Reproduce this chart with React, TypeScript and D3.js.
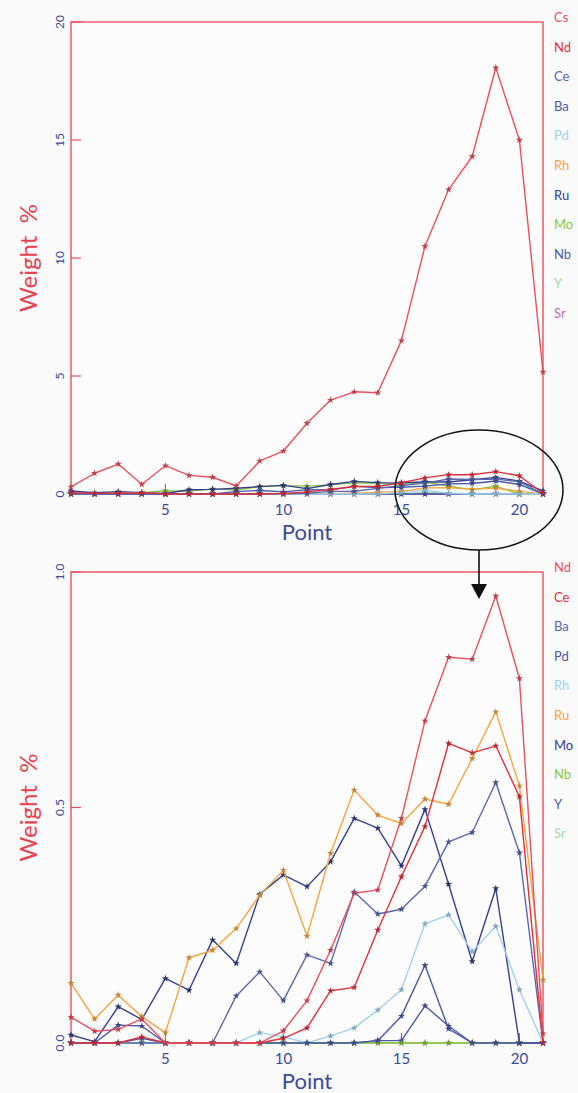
import React, { useEffect, useRef } from 'react';
import * as d3 from 'd3';

// measurement points along the line scan
const points = [1, 2, 3, 4, 5, 6, 7, 8, 9, 10, 11, 12, 13, 14, 15, 16, 17, 18, 19, 20, 21];

// weight % per element
const Cs = [0.3, 0.88, 1.27, 0.41, 1.2, 0.79, 0.71, 0.34, 1.4, 1.82, 3.0, 3.98, 4.33, 4.29, 6.5, 10.5, 12.9, 14.3, 18.06, 15.0, 5.17];
const Nd = [0.055, 0.025, 0.029, 0.051, 0, 0, 0, 0, 0, 0.026, 0.09, 0.197, 0.318, 0.325, 0.477, 0.684, 0.819, 0.815, 0.949, 0.774, 0.02];
const Ce = [0, 0, 0, 0.013, 0, 0, 0, 0, 0, 0.01, 0.032, 0.111, 0.118, 0.24, 0.353, 0.46, 0.636, 0.616, 0.631, 0.523, 0];
const Ba = [0, 0, 0, 0, 0, 0, 0, 0.1, 0.151, 0.09, 0.187, 0.169, 0.321, 0.274, 0.284, 0.333, 0.427, 0.447, 0.553, 0.404, 0];
const Pd = [0, 0, 0.038, 0.036, 0, 0, 0, 0, 0, 0, 0, 0, 0, 0.005, 0.057, 0.165, 0.03, 0, 0, 0, 0];
const Rh = [0, 0, 0, 0, 0, 0, 0, 0, 0.022, 0.013, 0, 0.015, 0.032, 0.07, 0.113, 0.253, 0.272, 0.194, 0.248, 0.113, 0];
const Ru = [0.127, 0.051, 0.102, 0.056, 0.022, 0.181, 0.197, 0.243, 0.314, 0.367, 0.227, 0.403, 0.537, 0.484, 0.466, 0.518, 0.507, 0.604, 0.703, 0.546, 0.134];
const Mo = [0.017, 0.003, 0.077, 0.05, 0.137, 0.112, 0.219, 0.169, 0.316, 0.357, 0.332, 0.385, 0.477, 0.456, 0.376, 0.496, 0.337, 0.173, 0.328, 0, 0];
const Nb = [0, 0, 0, 0, 0, 0, 0, 0, 0, 0, 0, 0, 0, 0, 0, 0, 0, 0, 0, 0, 0];
const Y = [0, 0, 0, 0.01, 0, 0, 0, 0, 0, 0, 0, 0, 0, 0.005, 0.005, 0.079, 0.036, 0, 0, 0, 0];
const Sr = [0, 0, 0, 0, 0, 0, 0, 0, 0, 0, 0, 0, 0, 0, 0, 0, 0, 0, 0, 0, 0];

const topNames = ['Cs', 'Nd', 'Ce', 'Ba', 'Pd', 'Rh', 'Ru', 'Mo', 'Nb', 'Y', 'Sr'];
const bottomNames = ['Nd', 'Ce', 'Ba', 'Pd', 'Rh', 'Ru', 'Mo', 'Nb', 'Y', 'Sr'];
const seriesByName: Record<string, number[]> = { Cs, Nd, Ce, Ba, Pd, Rh, Ru, Mo, Nb, Y, Sr };

const topTicks = [0, 5, 10, 15, 20];
const bottomTicks = [0, 0.5, 1.0];
const xTicks = [5, 10, 15, 20];

// colours go by position in the legend, same for both panels
const palette = ['#e8505c', '#e0303c', '#5868ae', '#4a5aa6', '#9fd2ee', '#f5a540', '#34418e', '#8cc640', '#4a5aa6', '#a6d8a6', '#b470b8'];

const RED = '#e8505c';
const BLUE = '#3b4b9b';
const FONT = 'Lato, "DejaVu Sans", sans-serif';

function App() {
  const svgRef = useRef<SVGSVGElement>(null);

  useEffect(() => {
    const svg = d3.select(svgRef.current);
    svg.selectAll('*').remove();

    svg.append('rect').attr('width', 578).attr('height', 1093).attr('fill', '#fafafa');

    const x = d3.scaleLinear().domain([1, 21]).range([71, 543]);

    const panels = [
      { names: topNames, top: 22, bottom: 494, max: 20, ticks: topTicks, fmt: (d: number) => String(d) },
      { names: bottomNames, top: 572, bottom: 1043, max: 1, ticks: bottomTicks, fmt: d3.format('.1f') },
    ];

    panels.forEach(p => {
      const y = d3.scaleLinear().domain([0, p.max]).range([p.bottom, p.top]);
      const g = svg.append('g');

      // frame
      g.append('rect')
        .attr('x', x(1)).attr('y', y(p.max))
        .attr('width', x(21) - x(1)).attr('height', y(0) - y(p.max))
        .attr('fill', '#fcfcfc').attr('stroke', RED).attr('stroke-width', 1.4);

      // inner tick marks
      g.selectAll('.yt').data(p.ticks).enter().append('line')
        .attr('x1', x(1)).attr('x2', x(1) + 10)
        .attr('y1', d => y(d)).attr('y2', d => y(d))
        .attr('stroke', RED).attr('stroke-width', 1.2);
      g.selectAll('.xt').data(xTicks).enter().append('line')
        .attr('x1', d => x(d)).attr('x2', d => x(d))
        .attr('y1', y(0)).attr('y2', y(0) - 10)
        .attr('stroke', RED).attr('stroke-width', 1.2);

      // y tick labels, rotated
      g.selectAll('.yl').data(p.ticks).enter().append('text')
        .attr('transform', d => `translate(59,${y(d)}) rotate(-90)`)
        .attr('text-anchor', 'middle').attr('dominant-baseline', 'central')
        .attr('font-family', FONT).attr('font-size', 12).attr('fill', BLUE)
        .text(d => p.fmt(d));

      // x tick labels
      g.selectAll('.xl').data(xTicks).enter().append('text')
        .attr('x', d => x(d)).attr('y', y(0) + 15)
        .attr('text-anchor', 'middle').attr('dominant-baseline', 'central')
        .attr('font-family', FONT).attr('font-size', 15).attr('fill', BLUE)
        .text(d => d);

      g.append('text')
        .attr('x', (x(1) + x(21)) / 2).attr('y', y(0) + 37)
        .attr('text-anchor', 'middle').attr('dominant-baseline', 'central')
        .attr('font-family', FONT).attr('font-size', 22).attr('fill', BLUE)
        .text('Point');

      g.append('text')
        .attr('transform', `translate(27,${(p.top + p.bottom) / 2}) rotate(-90)`)
        .attr('text-anchor', 'middle').attr('dominant-baseline', 'central')
        .attr('font-family', FONT).attr('font-size', 24).attr('fill', '#e8424f')
        .attr('xml:space', 'preserve').style('white-space', 'pre')
        .text('Weight  %');

      // series, drawn back to front so the first ones sit on top
      const line = d3.line<number>().x((_, i) => x(points[i])).y(d => y(d));
      const star = d3.symbol().type(d3.symbolStar).size(16);
      const order = p.names.map((n, i) => i).reverse();
      order.forEach(i => {
        const vals = seriesByName[p.names[i]];
        const c = palette[i];
        g.append('path').datum(vals)
          .attr('fill', 'none').attr('stroke', c).attr('stroke-width', 1.4)
          .attr('stroke-linejoin', 'round')
          .attr('d', line);
        g.selectAll(null).data(vals).enter().append('path')
          .attr('d', star)
          .attr('transform', (d, j) => `translate(${x(points[j])},${y(d)})`)
          .attr('fill', d3.color(c)!.darker(0.6).formatHex());
      });

      // legend
      g.selectAll('.lg').data(p.names).enter().append('text')
        .attr('x', 554).attr('y', (d, i) => p.top - 5 + i * 29.6)
        .attr('dominant-baseline', 'central')
        .attr('font-family', FONT).attr('font-size', 13)
        .attr('fill', (d, i) => palette[i])
        .text(d => d);
    });

    // zoom callout
    svg.append('ellipse')
      .attr('cx', 479).attr('cy', 490).attr('rx', 84).attr('ry', 60)
      .attr('fill', 'none').attr('stroke', '#111').attr('stroke-width', 1.5);
    svg.append('line')
      .attr('x1', 479).attr('x2', 479).attr('y1', 550).attr('y2', 586)
      .attr('stroke', '#111').attr('stroke-width', 1.6);
    svg.append('path')
      .attr('d', 'M471,584 L487,584 L479,599 Z')
      .attr('fill', '#111');
  }, []);

  return (
    <svg ref={svgRef} width={578} height={1093} style={{ position: 'absolute', left: 0, top: 0 }} />
  );
}

export default App;
